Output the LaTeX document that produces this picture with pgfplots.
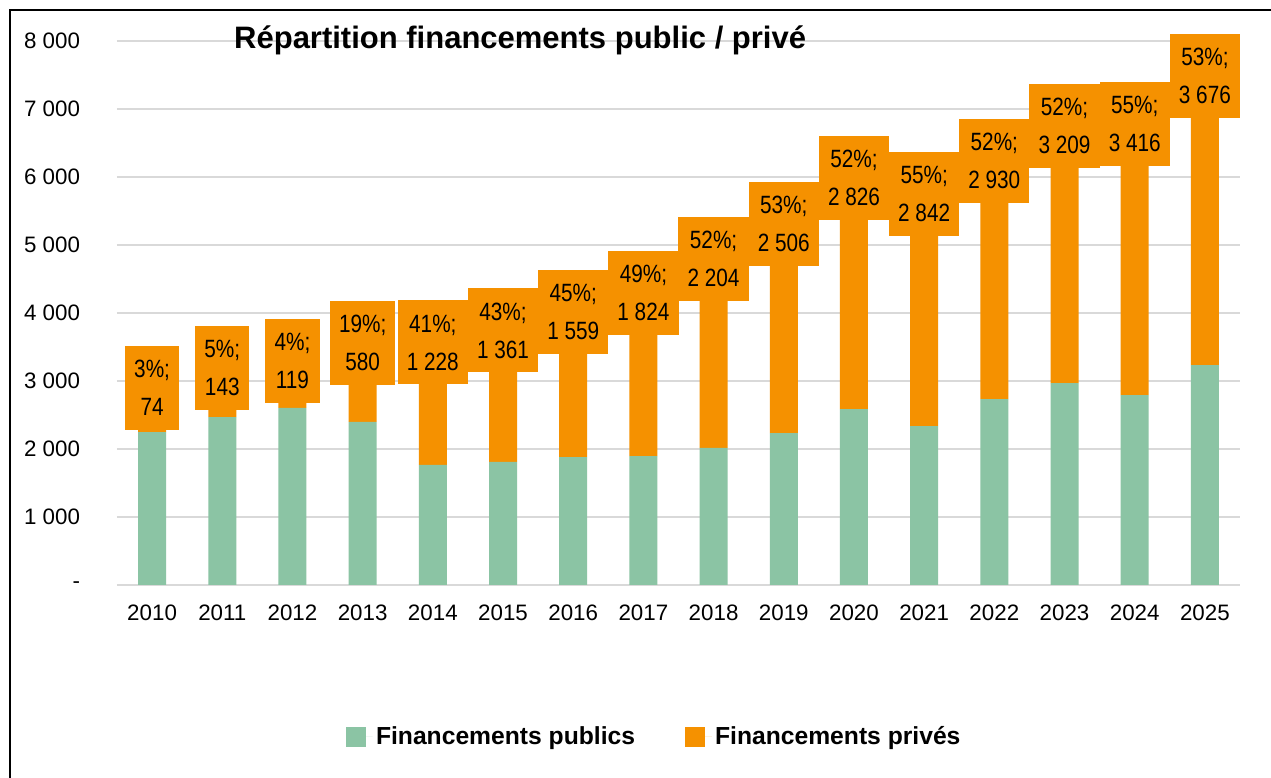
\documentclass[border=0pt]{standalone}
\usepackage{fontspec}
\setmainfont{Liberation Sans}
\newfontfamily\labelfont[FakeStretch=0.83]{Liberation Sans}
\usepackage{pgfplots}
\usepackage{pgfplotstable}
\pgfplotsset{compat=1.18}
\definecolor{pubgreen}{RGB}{139,196,164}
\definecolor{privorange}{RGB}{245,145,0}
\definecolor{gridgray}{RGB}{217,217,217}

% x = year index, pub/priv in the chart's units, pct = share of private
\pgfplotstableread[col sep=comma]{
x,pub,priv,pct,lab
0,2250,74,3,74
1,2470,143,5,143
2,2603,119,4,119
3,2400,580,19,580
4,1765,1228,41,1 228
5,1809,1361,43,1 361
6,1882,1559,45,1 559
7,1897,1824,49,1 824
8,2015,2204,52,2 204
9,2235,2506,53,2 506
10,2588,2826,52,2 826
11,2338,2842,55,2 842
12,2735,2930,52,2 930
13,2970,3209,52,3 209
14,2794,3416,55,3 416
15,3235,3676,53,3 676
}\fundtable

\begin{document}
\begin{tikzpicture}[x=0.6pt,y=0.6pt]
\useasboundingbox (0,0) rectangle (1271,778);
\fill[white] (0,0) rectangle (1271,778);
\draw[line width=1.2pt] (10,-10) -- (10,768) -- (1290,768);
\begin{axis}[
  at={(70.2pt,115.8pt)}, anchor=south west,
  scale only axis,
  width=673.8pt, height=326.4pt,
  ybar stacked, bar width=16.8pt,
  xmin=-0.5, xmax=15.5,
  ymin=0, ymax=8000,
  xtick={0,...,15},
  xticklabels={2010,2011,2012,2013,2014,2015,2016,2017,2018,2019,2020,2021,2022,2023,2024,2025},
  ytick={0,1000,...,8000},
  yticklabels={-,1 000,2 000,3 000,4 000,5 000,6 000,7 000,8 000},
  tick style={draw=none},
  axis line style={draw=none},
  ymajorgrids,
  major grid style={draw=gridgray, line width=1.1pt},
  tick label style={font=\fontsize{13.4pt}{16pt}\selectfont},
  yticklabel style={anchor=east, inner sep=0pt, xshift=-22pt},
  xticklabel style={anchor=north, inner sep=0pt, yshift=-12pt},
  title={\bfseries Répartition financements public / privé},
  title style={at={(0.359,0.983)}, anchor=center, font=\fontsize{18.6pt}{22pt}\selectfont},
  legend style={at={(0.479,-0.279)}, anchor=center, draw=none, fill=none,
    legend columns=2,
    font=\bfseries\fontsize{14.8pt}{17pt}\selectfont,
    /tikz/every even column/.append style={column sep=28pt}},
  legend image code/.code={\fill[#1] (0pt,-6pt) rectangle (12pt,6pt);
    \path (0pt,0pt) -- (16pt,0pt);},
]
\addplot[fill=pubgreen, draw=none] table[x=x, y=pub] {\fundtable};
% the node sits mid-segment: shift it up by half the segment (326.4pt / 8000 / 2 per unit)
\addplot[fill=privorange, draw=none,
  point meta=explicit symbolic,
  visualization depends on={\thisrow{pct} \as \pct},
  visualization depends on={\thisrow{priv} \as \privv},
  nodes near coords={\pgfmathprintnumber[assume math mode=true,fixed,precision=0]{\pct}\%;\\\pgfplotspointmeta},
  every node near coord/.append style={anchor=south, fill=privorange, text=black,
    align=center, inner xsep=5.5pt, inner ysep=0pt, minimum height=50.4pt,
    yshift={\privv*0.0204pt-2pt},
    font=\labelfont\fontsize{15pt}{22.8pt}\selectfont},
] table[x=x, y=priv, meta=lab] {\fundtable};
\legend{Financements publics, Financements privés}
\end{axis}
\end{tikzpicture}
\end{document}
